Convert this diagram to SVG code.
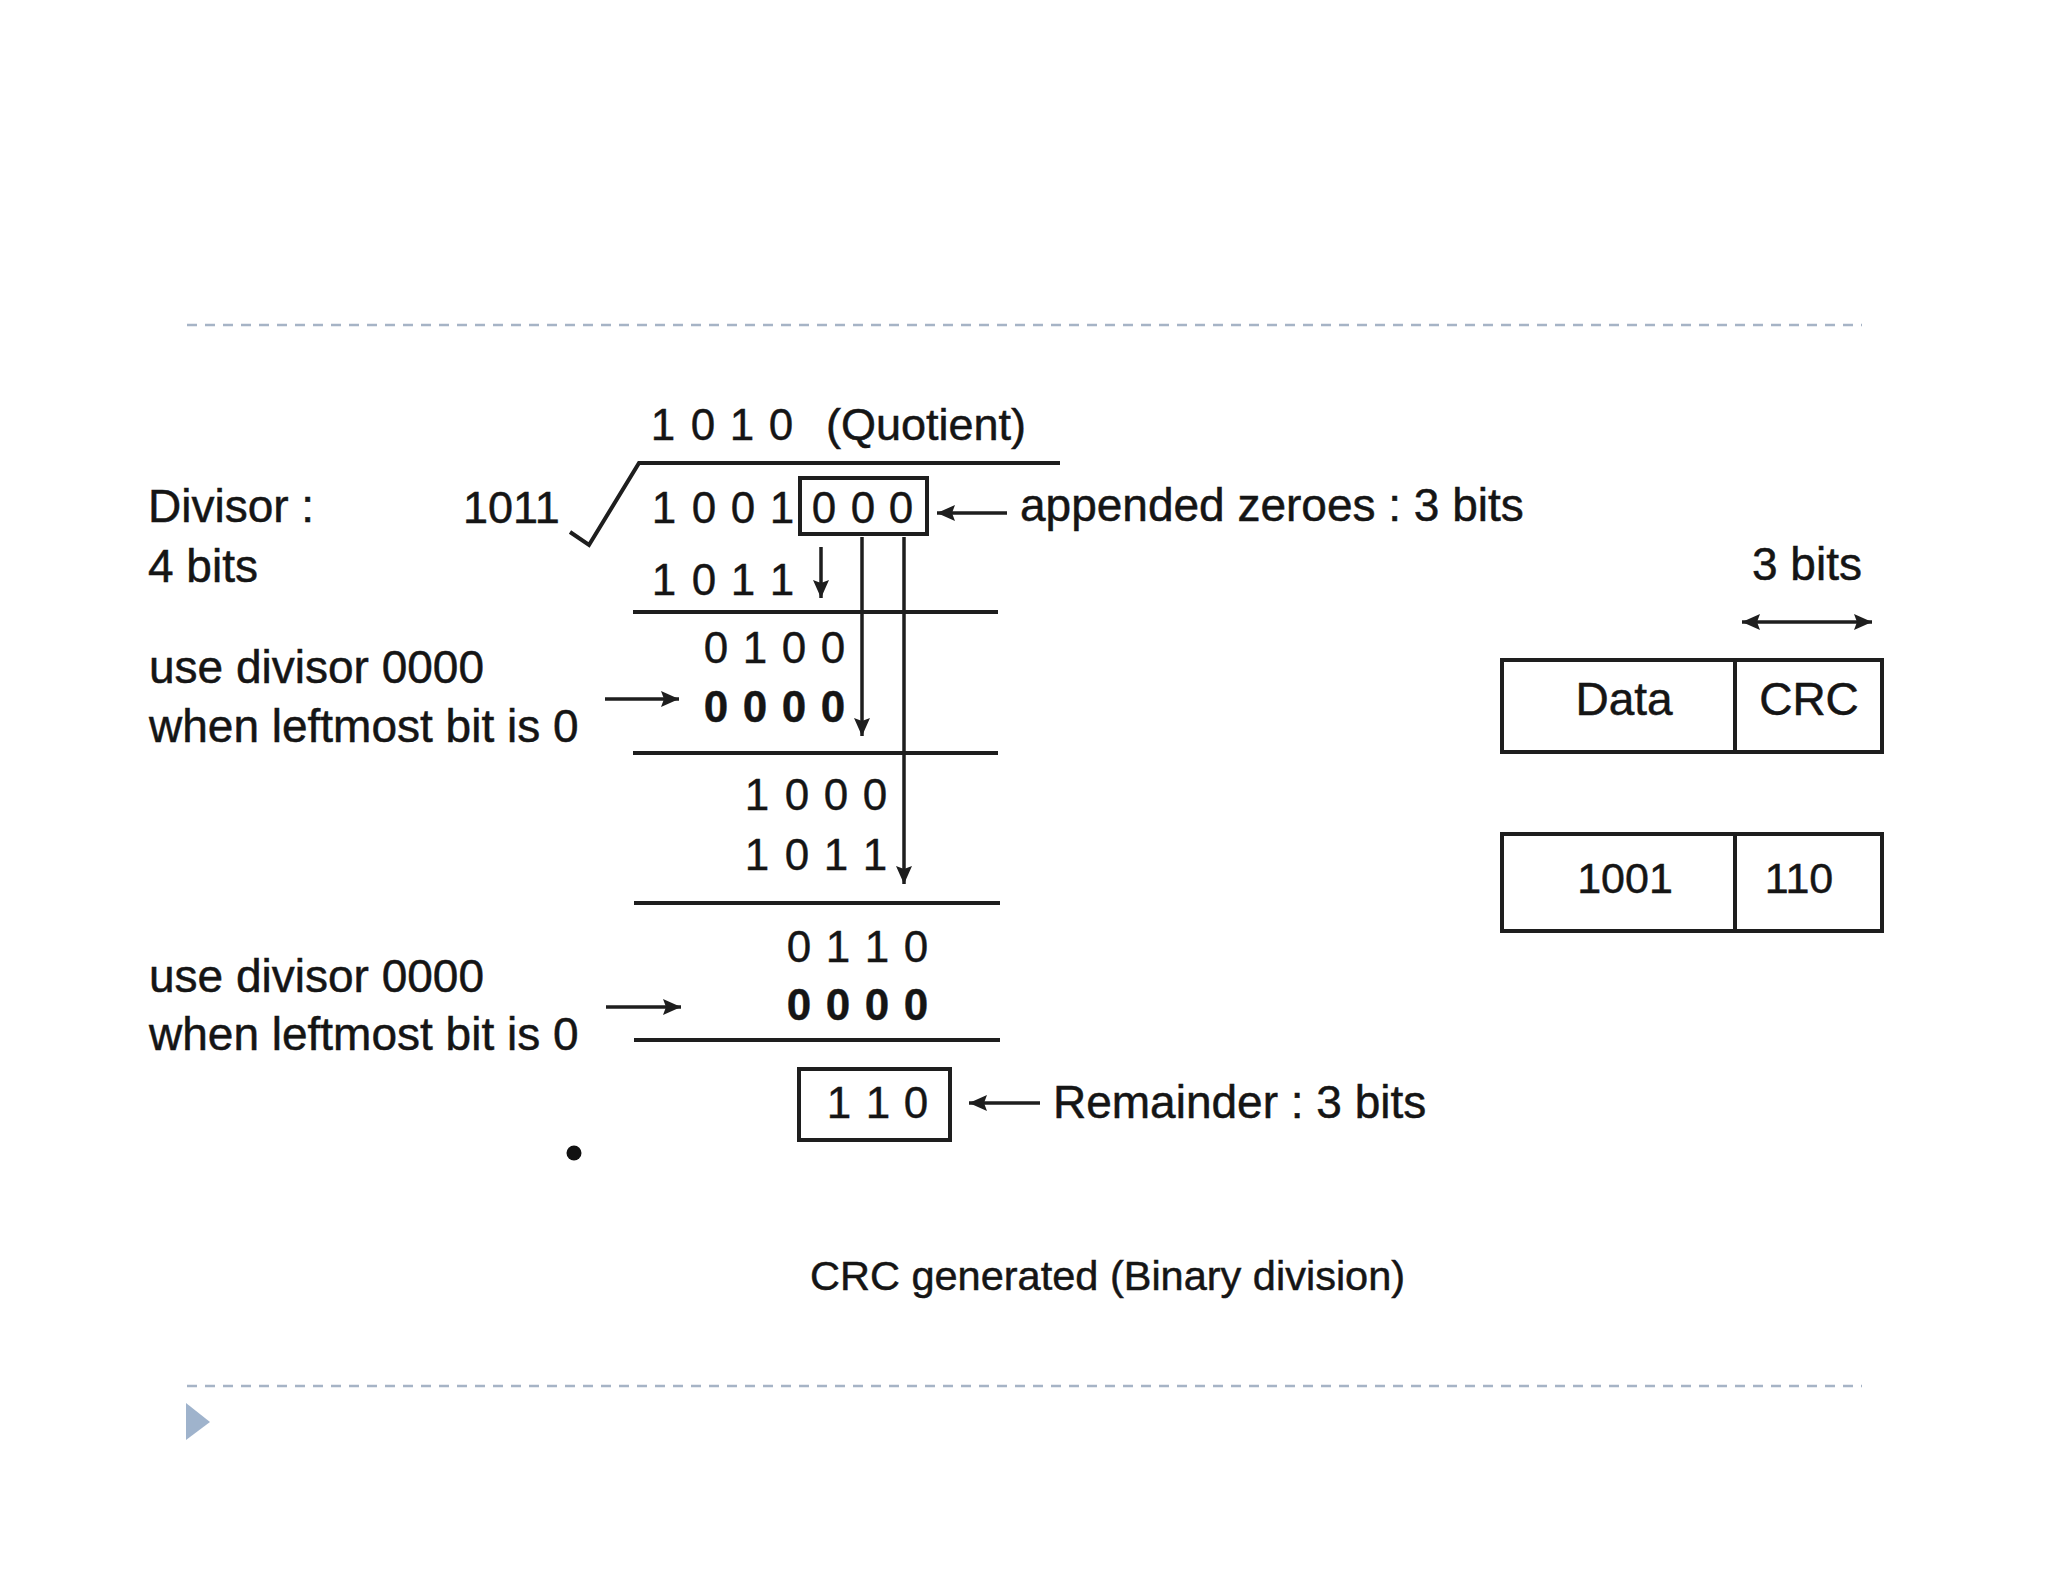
<svg xmlns="http://www.w3.org/2000/svg" width="2048" height="1582" viewBox="0 0 2048 1582">
<defs>
<style>
.t{font-family:"Liberation Sans",Arial,sans-serif;font-size:46px;fill:#151515;stroke:#151515;stroke-width:0.5}
.d{font-family:"Liberation Sans",Arial,sans-serif;font-size:44px;fill:#151515;text-anchor:middle;stroke:#151515;stroke-width:0.4}
.b{font-weight:bold}
.ln{stroke:#1e1e1e;stroke-width:4;fill:none}
.ar{stroke:#1e1e1e;stroke-width:3.5;fill:none;marker-end:url(#ah)}
.bx{stroke:#1e1e1e;stroke-width:4;fill:none}
.dash{stroke:#a6b4c6;stroke-width:2.5;stroke-dasharray:10 8;fill:none}
</style>
<marker id="ah" viewBox="0 0 18 16" refX="18" refY="8" markerWidth="18" markerHeight="16" markerUnits="userSpaceOnUse" orient="auto-start-reverse">
<path d="M0,0 L18,8 L0,16 L3,8 z" fill="#1e1e1e"/>
</marker>
</defs>
<rect width="2048" height="1582" fill="#ffffff"/>

<g id="frame">
<line class="dash" x1="187" y1="325" x2="1862" y2="325"/>
<line class="dash" x1="187" y1="1386" x2="1862" y2="1386"/>
<polygon points="186,1403 210,1422 186,1440" fill="#9fb3cc"/>
</g>

<g id="divisor-label">
<text class="t" x="148" y="522">Divisor :</text>
<text class="t" x="148" y="582">4 bits</text>
</g>

<g id="quotient">
<text class="d" x="663 703 742 781" y="440">1010</text>
<text class="t" x="826" y="440" style="font-size:45px">(Quotient)</text>
</g>

<g id="division-bracket">
<text class="t" x="463" y="523" style="font-size:45px">1011</text>
<polyline class="ln" points="570,532 589,545 639,463 1060,463"/>
</g>

<g id="dividend">
<text class="d" x="664 704 743 782" y="523">1001</text>
<rect class="bx" x="800" y="478" width="127" height="56"/>
<text class="d" x="824 863 901" y="523">000</text>
</g>

<g id="appended-label">
<text class="t" x="1020" y="521">appended zeroes : 3 bits</text>
</g>

<g id="step1">
<text class="d" x="664 704 743 782" y="595">1011</text>
<line class="ln" x1="633" y1="612" x2="998" y2="612"/>
</g>

<g id="step2">
<text class="d" x="716 755 794 833" y="663">0100</text>
<text class="d b" x="716 755 794 833" y="722">0000</text>
<line class="ln" x1="633" y1="753" x2="998" y2="753"/>
</g>

<g id="note1">
<text class="t" x="149" y="683">use divisor 0000</text>
<text class="t" x="149" y="742">when leftmost bit is 0</text>
</g>

<g id="step3">
<text class="d" x="757 797 836 875" y="810">1000</text>
<text class="d" x="757 797 836 875" y="870">1011</text>
<line class="ln" x1="634" y1="903" x2="1000" y2="903"/>
</g>

<g id="step4">
<text class="d" x="799 838 877 916" y="962">0110</text>
<text class="d b" x="799 838 877 916" y="1020">0000</text>
<line class="ln" x1="634" y1="1040" x2="1000" y2="1040"/>
</g>

<g id="note2">
<text class="t" x="149" y="992">use divisor 0000</text>
<text class="t" x="149" y="1050">when leftmost bit is 0</text>
</g>

<g id="remainder">
<rect class="bx" x="799" y="1069" width="151" height="71"/>
<text class="d" x="839 878 916" y="1118">110</text>
<text class="t" x="1053" y="1118">Remainder : 3 bits</text>
</g>

<g id="bullet">
<circle cx="574" cy="1153" r="7.5" fill="#111"/>
</g>

<g id="caption">
<text class="t" x="810" y="1290" style="font-size:41.5px">CRC generated (Binary division)</text>
</g>

<g id="frame-format">
<text class="t" x="1752" y="580">3 bits</text>
<rect class="bx" x="1502" y="660" width="380" height="92"/>
<line class="ln" x1="1735" y1="660" x2="1735" y2="752"/>
<text class="t" x="1624" y="715" text-anchor="middle">Data</text>
<text class="t" x="1809" y="715" text-anchor="middle">CRC</text>
</g>

<g id="frame-values">
<rect class="bx" x="1502" y="834" width="380" height="97"/>
<line class="ln" x1="1735" y1="834" x2="1735" y2="931"/>
<text class="t" x="1625" y="893" text-anchor="middle" style="font-size:43px">1001</text>
<text class="t" x="1799" y="893" text-anchor="middle" style="font-size:43px">110</text>
</g>

<g id="connectors">
<line class="ar" x1="821" y1="547" x2="821" y2="598"/>
<line class="ar" x1="862" y1="537" x2="862" y2="736"/>
<line class="ar" x1="904" y1="537" x2="904" y2="884"/>
<line class="ar" x1="1007" y1="513" x2="937" y2="513"/>
<line class="ar" x1="605" y1="699" x2="679" y2="699"/>
<line class="ar" x1="606" y1="1007" x2="681" y2="1007"/>
<line class="ar" x1="1040" y1="1103" x2="969" y2="1103"/>
<line class="ar" x1="1742" y1="622" x2="1872" y2="622" style="marker-start:url(#ah)"/>
</g>
</svg>
